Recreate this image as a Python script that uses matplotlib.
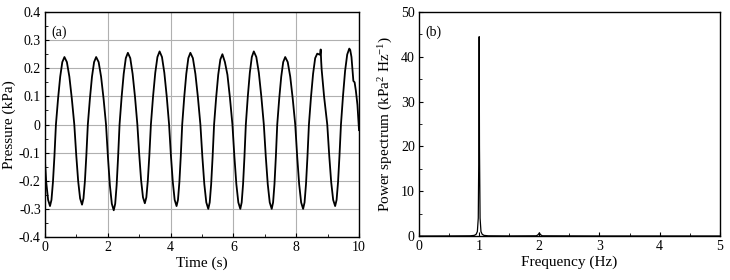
import matplotlib
matplotlib.use("Agg")
import matplotlib.pyplot as plt
from matplotlib.ticker import MultipleLocator

plt.rcParams['font.family'] = ['Liberation Serif', 'DejaVu Serif']
plt.rcParams['font.size'] = 10
plt.rcParams['mathtext.fontset'] = 'custom'
plt.rcParams['mathtext.rm'] = 'Liberation Serif'
plt.rcParams['mathtext.it'] = 'Liberation Serif:italic'

# (a) pressure time series
time_s = [0.0, 0.04, 0.10, 0.16,
          0.207, 0.254, 0.302, 0.349, 0.417, 0.485, 0.552, 0.62,
          0.698, 0.777, 0.855, 0.934, 0.996, 1.057, 1.119, 1.18,
          1.226, 1.272, 1.318, 1.365, 1.431, 1.497, 1.564, 1.63,
          1.709, 1.787, 1.866, 1.944, 2.006, 2.067, 2.129, 2.19,
          2.236, 2.282, 2.328, 2.375, 2.441, 2.507, 2.574, 2.64,
          2.716, 2.791, 2.867, 2.942, 3.002, 3.061, 3.121, 3.18,
          3.228, 3.276, 3.325, 3.373, 3.442, 3.512, 3.581, 3.65,
          3.726, 3.801, 3.877, 3.952, 4.011, 4.071, 4.130, 4.19,
          4.235, 4.280, 4.325, 4.370, 4.435, 4.500, 4.565, 4.63,
          4.710, 4.790, 4.869, 4.949, 5.012, 5.074, 5.137, 5.20,
          5.246, 5.292, 5.338, 5.385, 5.451, 5.517, 5.584, 5.65,
          5.730, 5.810, 5.889, 5.969, 6.032, 6.094, 6.157, 6.22,
          6.264, 6.308, 6.352, 6.396, 6.459, 6.523, 6.586, 6.65,
          6.730, 6.810, 6.889, 6.969, 7.032, 7.094, 7.157, 7.22,
          7.264, 7.308, 7.352, 7.396, 7.459, 7.523, 7.586, 7.65,
          7.730, 7.810, 7.889, 7.969, 8.032, 8.094, 8.157, 8.22,
          8.266, 8.312, 8.358, 8.405, 8.471, 8.537, 8.604, 8.67,
          8.72, 8.76, 8.78, 8.795, 8.81, 8.889, 8.989, 9.052, 9.114, 9.177, 9.24,
          9.286, 9.332, 9.378, 9.425, 9.491, 9.557, 9.624, 9.69,
          9.72, 9.76, 9.80, 9.82, 9.86, 9.90, 9.95, 10.0]
pressure = [-0.13, -0.205, -0.268, -0.29,
            -0.268, -0.205, -0.111, 0.0, 0.092, 0.170, 0.222, 0.24,
            0.222, 0.170, 0.092, 0.0, -0.109, -0.201, -0.263, -0.285,
            -0.263, -0.201, -0.109, 0.0, 0.092, 0.170, 0.222, 0.24,
            0.222, 0.170, 0.092, 0.0, -0.117, -0.216, -0.282, -0.305,
            -0.282, -0.216, -0.117, 0.0, 0.098, 0.180, 0.236, 0.255,
            0.236, 0.180, 0.098, 0.0, -0.107, -0.198, -0.259, -0.28,
            -0.259, -0.198, -0.107, 0.0, 0.100, 0.184, 0.240, 0.26,
            0.240, 0.184, 0.100, 0.0, -0.111, -0.205, -0.268, -0.29,
            -0.268, -0.205, -0.111, 0.0, 0.098, 0.180, 0.236, 0.255,
            0.236, 0.180, 0.098, 0.0, -0.115, -0.212, -0.277, -0.30,
            -0.277, -0.212, -0.115, 0.0, 0.096, 0.177, 0.231, 0.25,
            0.222, 0.177, 0.096, 0.0, -0.115, -0.212, -0.277, -0.30,
            -0.277, -0.212, -0.115, 0.0, 0.100, 0.184, 0.240, 0.26,
            0.240, 0.184, 0.100, 0.0, -0.115, -0.212, -0.277, -0.30,
            -0.277, -0.212, -0.115, 0.0, 0.092, 0.170, 0.222, 0.24,
            0.222, 0.170, 0.092, 0.0, -0.115, -0.212, -0.277, -0.30,
            -0.277, -0.212, -0.115, 0.0, 0.098, 0.180, 0.236, 0.252,
            0.25, 0.248, 0.267, 0.225, 0.196, 0.098, 0.0, -0.111, -0.205, -0.268, -0.29,
            -0.268, -0.205, -0.111, 0.0, 0.103, 0.191, 0.249, 0.27,
            0.265, 0.24, 0.18, 0.155, 0.15, 0.12, 0.07, -0.02]

# (b) power spectrum
freq_hz = [0.0, 0.5, 0.85, 0.92, 0.95, 0.97, 0.985, 0.995, 1.0, 1.005, 1.015,
           1.03, 1.05, 1.08, 1.15, 1.5, 1.95, 1.98, 2.0, 2.02, 2.05, 3.0, 4.0, 5.0]
power = [0.0, 0.02, 0.05, 0.15, 0.4, 1.0, 4.0, 20.0, 44.5, 20.0, 4.0,
         1.0, 0.4, 0.15, 0.05, 0.02, 0.05, 0.3, 0.7, 0.3, 0.05, 0.01, 0.01, 0.01]

fig = plt.figure(figsize=(7.3, 2.8), dpi=100)
ax1 = fig.add_axes([0.0616, 0.1536, 0.4302, 0.8034])
ax2 = fig.add_axes([0.574, 0.157, 0.412, 0.80])

ax1.plot(time_s, pressure, color='black', lw=1.3)
ax1.set_xlim(0, 10)
ax1.set_ylim(-0.4, 0.4)
ax1.xaxis.set_major_locator(MultipleLocator(2))
ax1.xaxis.set_minor_locator(MultipleLocator(1))
ax1.yaxis.set_minor_locator(MultipleLocator(0.05))
ax1.set_yticks([-0.4, -0.3, -0.2, -0.1, 0, 0.1, 0.2, 0.3, 0.4])
ax1.set_yticklabels(['-0.4', '-0.3', '-0.2', '-0.1', '0', '0.1', '0.2', '0.3', '0.4'])
ax1.grid(True, color='#b0b0b0', lw=0.8)
ax1.set_xlabel('Time (s)', fontsize=11, labelpad=2)
ax1.set_ylabel('Pressure (kPa)', fontsize=11, labelpad=2)
ax1.text(0.02, 0.94, '(a)', transform=ax1.transAxes, fontsize=10, va='top')

ax2.plot(freq_hz, power, color='black', lw=0.9)
ax2.set_xlim(0, 5)
ax2.set_ylim(0, 50)
ax2.xaxis.set_major_locator(MultipleLocator(1))
ax2.xaxis.set_minor_locator(MultipleLocator(0.5))
ax2.yaxis.set_major_locator(MultipleLocator(10))
ax2.yaxis.set_minor_locator(MultipleLocator(5))
ax2.set_xlabel('Frequency (Hz)', fontsize=11, labelpad=2)
ax2.set_ylabel(r'Power spectrum (kPa$^{2}$ Hz$^{-1}$)', fontsize=11, labelpad=4)
ax2.text(0.02, 0.94, '(b)', transform=ax2.transAxes, fontsize=10, va='top')

for ax in (ax1, ax2):
    ax.tick_params(which='both', direction='in', top=False, right=False, labelsize=10, pad=3)
    ax.tick_params(which='major', length=3)
    ax.tick_params(which='minor', length=2)
    for s in ax.spines.values():
        s.set_linewidth(1.0)

fig.savefig('out.png', dpi=100)
